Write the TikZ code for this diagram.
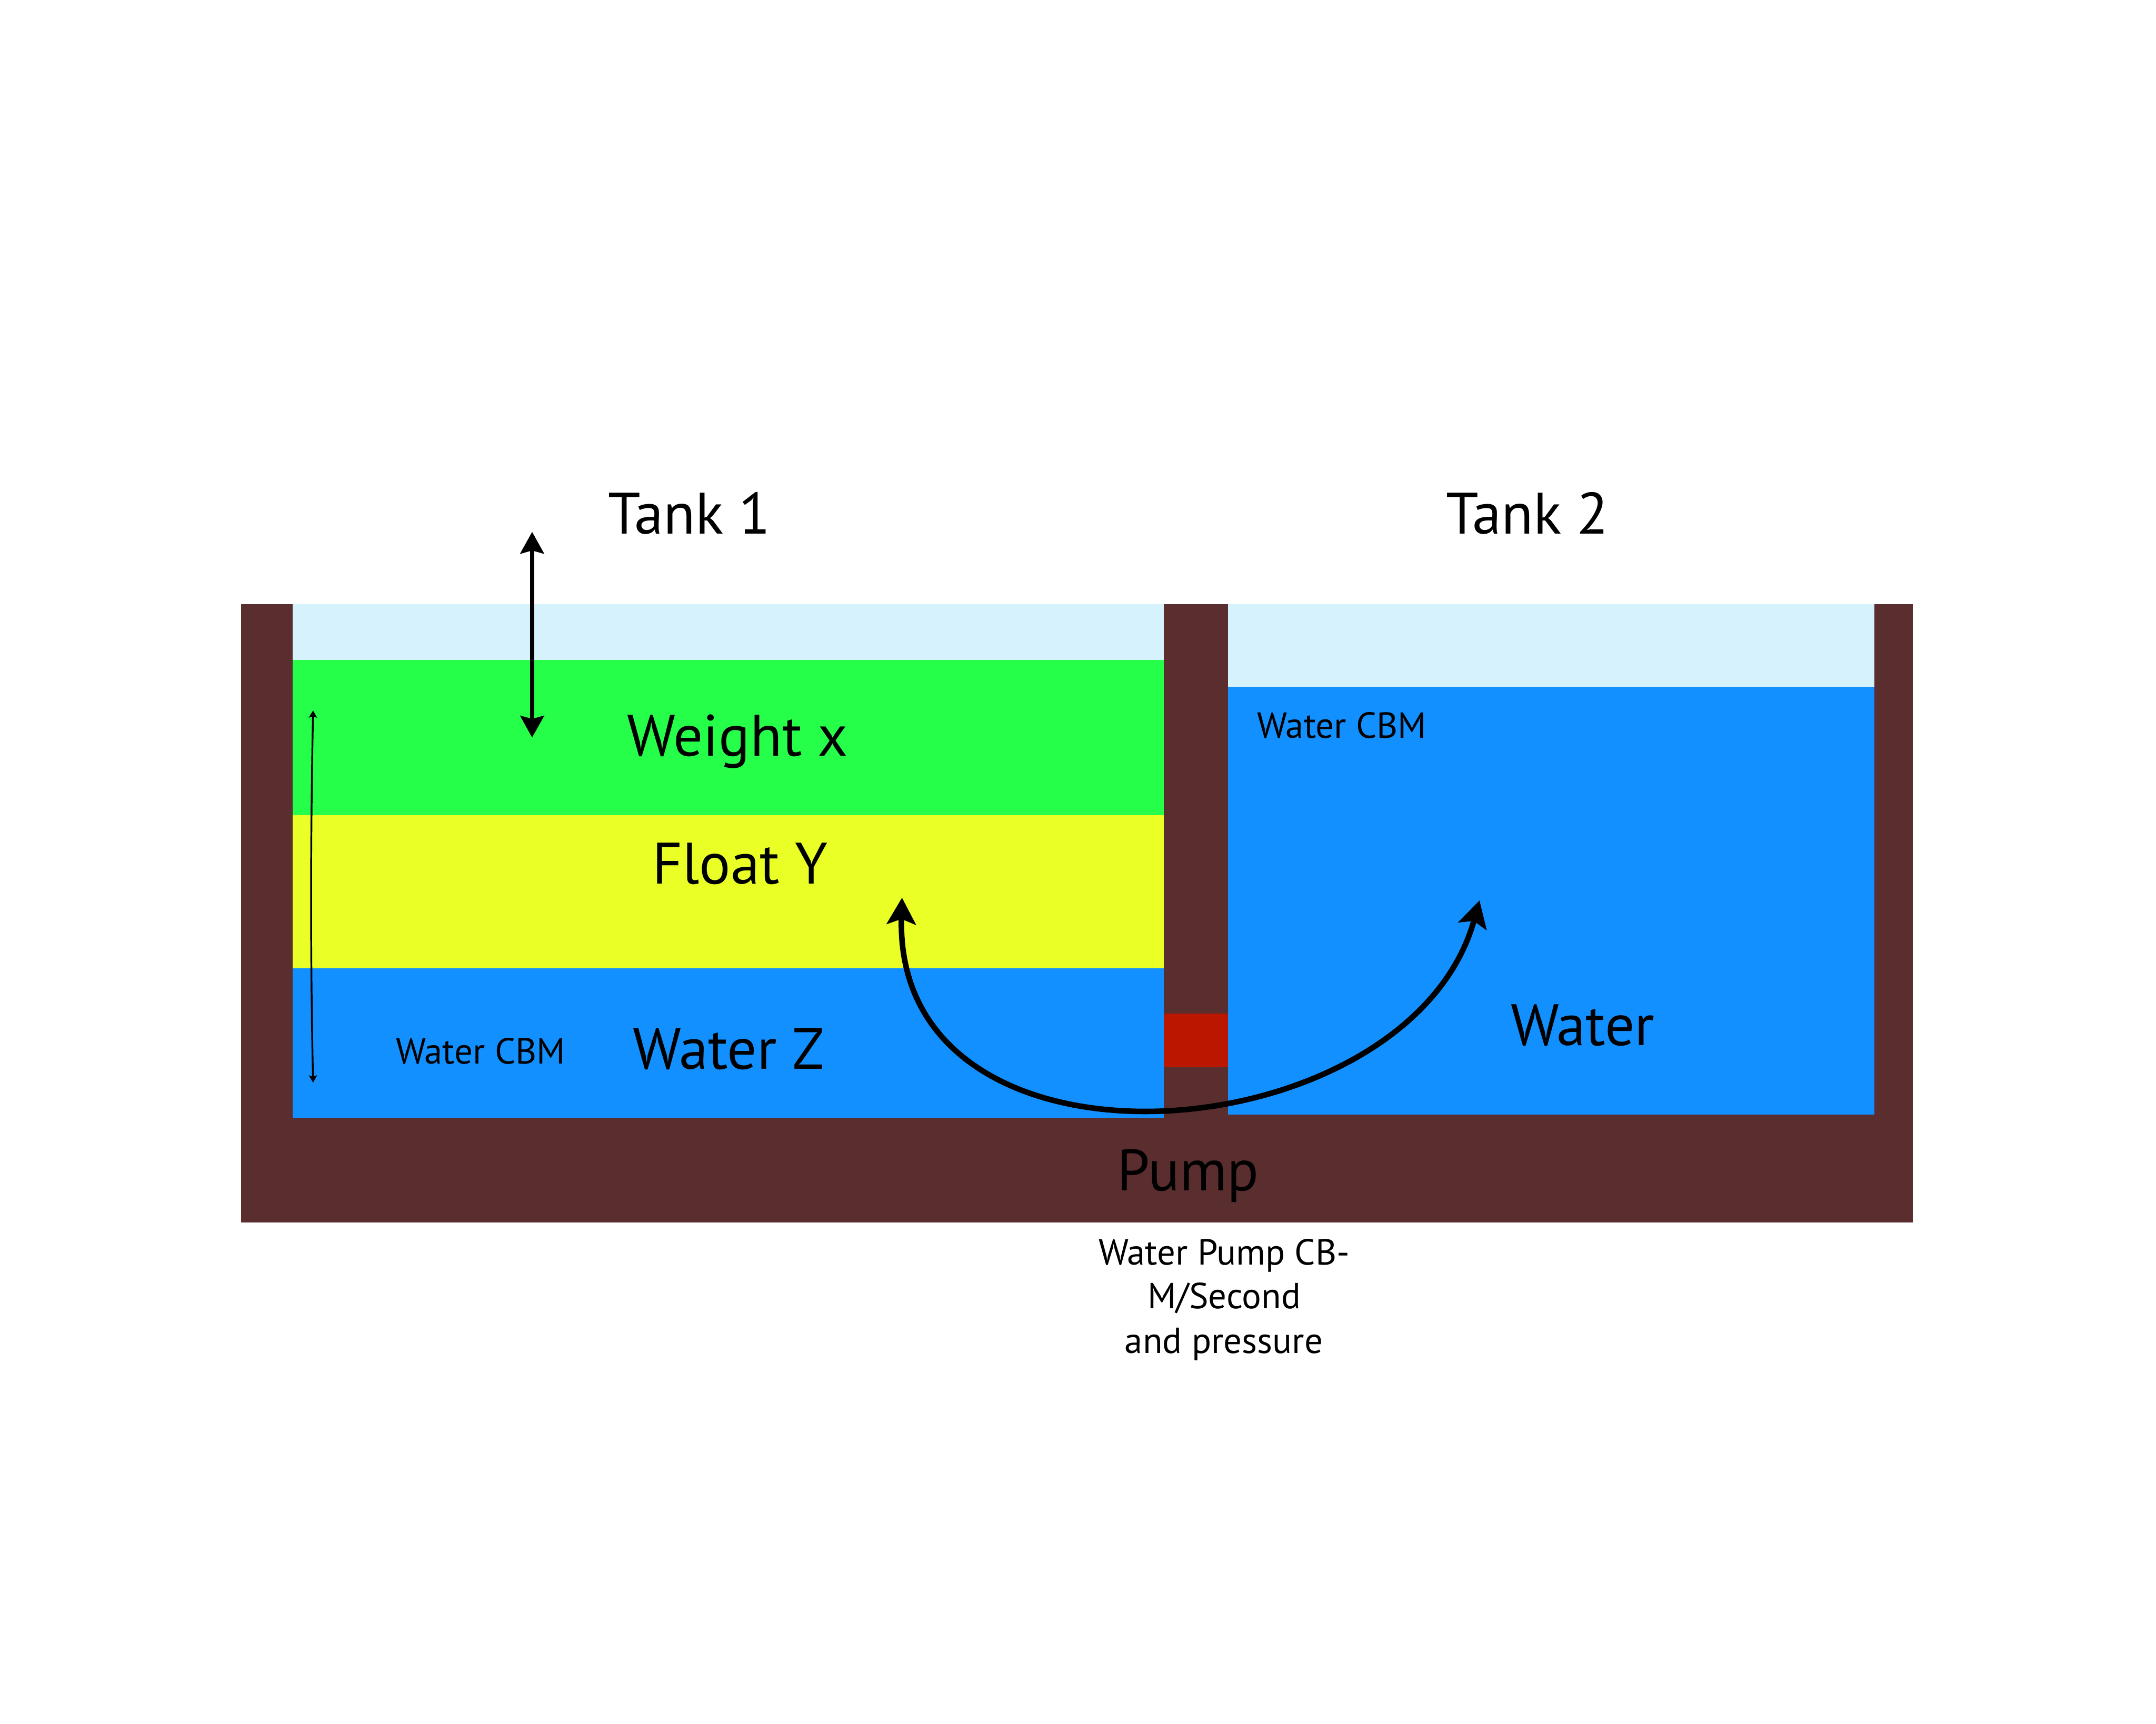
\documentclass[tikz,border=0pt]{standalone}
\usepackage{fontspec}
\setmainfont{PT Sans}
\usetikzlibrary{arrows.meta}
\definecolor{wallbrown}{HTML}{5A2D2F}
\definecolor{airblue}{HTML}{D6F3FD}
\definecolor{weightgreen}{HTML}{26FF4A}
\definecolor{floatyellow}{HTML}{E9FF26}
\definecolor{waterblue}{HTML}{1290FF}
\definecolor{pumpred}{HTML}{BB1600}
\tikzset{
  bigtext/.style={font=\fontsize{24.2}{29}\selectfont, inner sep=0pt, anchor=base},
  smalltext/.style={font=\fontsize{15}{18}\selectfont, inner sep=0pt, anchor=base},
  levelarrow/.style={line width=1.6pt, {Stealth[length=9pt,width=9.8pt,inset=1.3pt]}-{Stealth[length=9pt,width=9.8pt,inset=1.3pt]}},
  heightarrow/.style={line width=0.75pt, {Stealth[length=3pt,width=3.4pt,inset=0.6pt]}-{Stealth[length=3pt,width=3.4pt,inset=0.6pt]}},
  flowarrow/.style={line width=2.3pt, {Stealth[length=11pt,width=12pt,inset=2.2pt]}-{Stealth[length=11pt,width=12pt,inset=2.2pt]}}
}
\begin{document}
\begin{tikzpicture}[x=0.2mm, y=-0.2mm]
\useasboundingbox (0,0) rectangle (1568,1254);
\fill[white] (0,0) rectangle (1568,1254);
% tank body
\fill[wallbrown] (175.2,439.6) rectangle (1391.3,889.2);
% tank 1 contents
\fill[airblue] (213,439.6) rectangle (846.5,480);
\fill[weightgreen] (213,480) rectangle (846.5,593);
\fill[floatyellow] (213,593) rectangle (846.5,704.3);
\fill[waterblue] (213,704.3) rectangle (846.5,813.2);
% tank 2 contents
\fill[airblue] (893,439.6) rectangle (1363.1,499.7);
\fill[waterblue] (893,499.7) rectangle (1363.1,810.7);
% pump
\fill[pumpred] (846.5,737.2) rectangle (893,776.3);
% labels
\node[bigtext] (tank1) at (501.4,388.3) {Tank 1};
\node[bigtext] (tank2) at (1110.8,388.3) {Tank 2};
\node[bigtext] (weight) at (536.4,550) {Weight x};
\node[bigtext] (float) at (538.2,642.8) {Float Y};
\node[bigtext] (waterz) at (529.9,777.8) {Water Z};
\node[smalltext] (cbmone) at (349.6,773.8) {Water CBM};
\node[smalltext] (cbmtwo) at (976,536.7) {Water CBM};
\node[bigtext] (water) at (1151,760.3) {Water};
\node[bigtext] (pump) at (864,866.2) {Pump};
\node[smalltext] (noteone) at (890.3,920) {Water Pump CB-};
\node[smalltext] (notetwo) at (890.3,951.9) {M/Second};
\node[smalltext] (notethree) at (890.1,984.5) {and pressure};
% arrows
\coordinate (wtop) at (387,386.9);
\coordinate (wbot) at (387,536.5);
\draw[levelarrow] (wtop) -- (wbot);
\coordinate (htop) at (227.7,516.8);
\coordinate (hbot) at (227.7,787.5);
\draw[heightarrow] (htop) .. controls (225.8,610) and (225.8,700) .. (hbot);
\coordinate (ftip) at (656,653);
\coordinate (wtip) at (1076,655);
\draw[flowarrow] (ftip) .. controls (650,870) and (1025,840) .. (wtip);
\end{tikzpicture}
\end{document}
